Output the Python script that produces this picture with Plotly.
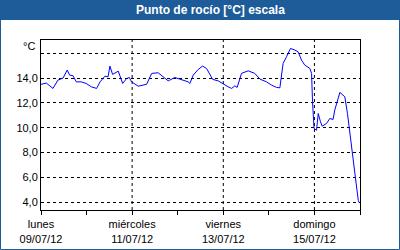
import plotly.graph_objects as go
import pandas as pd

# hours since 2012-07-09 00:00 and dew point values (°C)
hours = [0, 2.8, 6.3, 8.9, 11.6, 13.8, 15.1, 16.8, 18.6, 21.2, 23.8, 26.5, 29.3,
         31.1, 33.7, 35.3, 36.3, 37.7, 40.7, 43.0, 45.1, 46.5, 47.7, 51.2, 55.6,
         58.3, 61.7, 64.4, 67.0, 70.5, 73.2, 75.3, 77.5, 78.4, 80.2, 82.8, 85.1,
         87.2, 90.4, 93.3, 96.0, 98.6, 100.4, 102.1, 103.3, 105.6, 109.1, 112.6,
         115.3, 118.8, 121.4, 124.1, 125.8, 126.7, 127.5, 129.3, 131.4, 133.7,
         135.4, 137.2, 138.9, 141.6, 142.5, 143.0, 143.8, 145.1, 146.0, 147.2,
         148.1, 150.4, 152.1, 153.8, 154.7, 157.4, 159.1, 160.0, 161.4, 162.6,
         164.1, 165.3, 166.2, 167.1, 167.5]
dew_point = [13.5, 13.6, 13.17, 13.84, 14.0, 14.65, 14.24, 14.2, 13.7, 13.7, 13.57,
             13.3, 13.17, 13.7, 14.16, 14.1, 14.97, 14.3, 14.56, 13.57, 13.97, 14.05,
             13.7, 13.35, 13.5, 14.38, 14.43, 14.1, 13.78, 14.05, 13.92, 13.78, 13.7,
             13.57, 14.24, 14.7, 14.97, 14.78, 13.9, 13.78, 13.5, 13.3, 13.17, 13.38,
             13.25, 14.38, 14.59, 14.38, 13.92, 13.7, 13.44, 13.25, 13.22, 14.1,
             15.18, 15.72, 16.39, 16.26, 16.12, 15.45, 15.05, 14.78, 14.38, 12.1,
             9.95, 9.8, 11.15, 10.48, 10.13, 10.35, 10.75, 10.67, 11.42, 12.85,
             12.58, 12.5, 11.15, 9.54, 7.93, 6.31, 5.23, 4.16, 3.98]

start = "2012-07-09"
day_ticks = ["2012-07-09", "2012-07-10", "2012-07-11", "2012-07-12", "2012-07-13",
             "2012-07-14", "2012-07-15", "2012-07-16"]
day_labels = ["lunes<br>09/07/12", "", "miércoles<br>11/07/12", "", "viernes<br>13/07/12",
              "", "domingo<br>15/07/12", ""]
grid_days = ["2012-07-11", "2012-07-13", "2012-07-15"]
y_ticks = [4, 6, 8, 10, 12, 14, 16]
y_labels = ["4,0", "6,0", "8,0", "10,0", "12,0", "14,0", ""]
title_text = "Punto de rocío [°C] escala"
unit_text = "°C"

times = pd.Timestamp(start) + pd.to_timedelta(hours, unit="h")

BLUE = "#1d5c98"
FONT = "Liberation Sans"

fig = go.Figure()
fig.add_trace(go.Scatter(x=times, y=dew_point, mode="lines",
                         line=dict(color="#0000ff", width=1), hoverinfo="skip"))

shapes = []
for d in grid_days:
    shapes.append(dict(type="line", xref="x", yref="paper", x0=d, x1=d, y0=0, y1=1,
                       line=dict(color="black", width=1, dash="3px,3px"), layer="below"))

L, R, T, B = 41, 40, 40, 40
W, H = 400, 250
pw, ph = W - L - R, H - T - B


def px(x):
    return (x - L) / pw


def py(y):
    return (H - B - y) / ph


# title bar
shapes.append(dict(type="rect", xref="paper", yref="paper", x0=px(0), x1=px(W),
                   y0=py(20), y1=py(0), fillcolor=BLUE, line=dict(width=0), layer="below"))
# outer frame
shapes.append(dict(type="rect", xref="paper", yref="paper", x0=px(0.5), x1=px(W - 0.5),
                   y0=py(H - 0.5), y1=py(0.5), line=dict(color=BLUE, width=1), layer="below"))

fig.update_layout(
    width=W, height=H,
    margin=dict(l=L, r=R, t=T, b=B, autoexpand=False),
    paper_bgcolor="white", plot_bgcolor="white",
    showlegend=False,
    shapes=shapes,
    font=dict(family=FONT, size=11, color="black"),
    annotations=[
        dict(text="<b>" + title_text + "</b>", xref="paper", yref="paper",
             x=px(210), y=py(10.5), xanchor="center", yanchor="middle", showarrow=False,
             font=dict(family=FONT, size=12, color="white")),
        dict(text=unit_text, xref="paper", yref="paper", x=px(37), y=py(45.5),
             xanchor="right", yanchor="middle", showarrow=False,
             font=dict(family=FONT, size=11, color="black")),
    ],
)
fig.update_xaxes(
    type="date", range=[day_ticks[0], day_ticks[-1]], automargin=False,
    tickmode="array", tickvals=day_ticks, ticktext=day_labels,
    ticks="outside", ticklen=4, tickcolor="black", tickwidth=1,
    showgrid=False, zeroline=False,
    showline=True, linecolor="black", linewidth=1, mirror=True,
    tickfont=dict(family=FONT, size=11, color="black"),
)
fig.update_yaxes(
    range=[3.38, 17.07], automargin=False,
    tickmode="array", tickvals=y_ticks, ticktext=y_labels,
    ticks="", showgrid=True, gridcolor="black", gridwidth=1, griddash="3px,3px",
    zeroline=False, showline=True, linecolor="black", linewidth=1, mirror=True,
    tickfont=dict(family=FONT, size=11, color="black"),
)

fig.write_html("out.html")
